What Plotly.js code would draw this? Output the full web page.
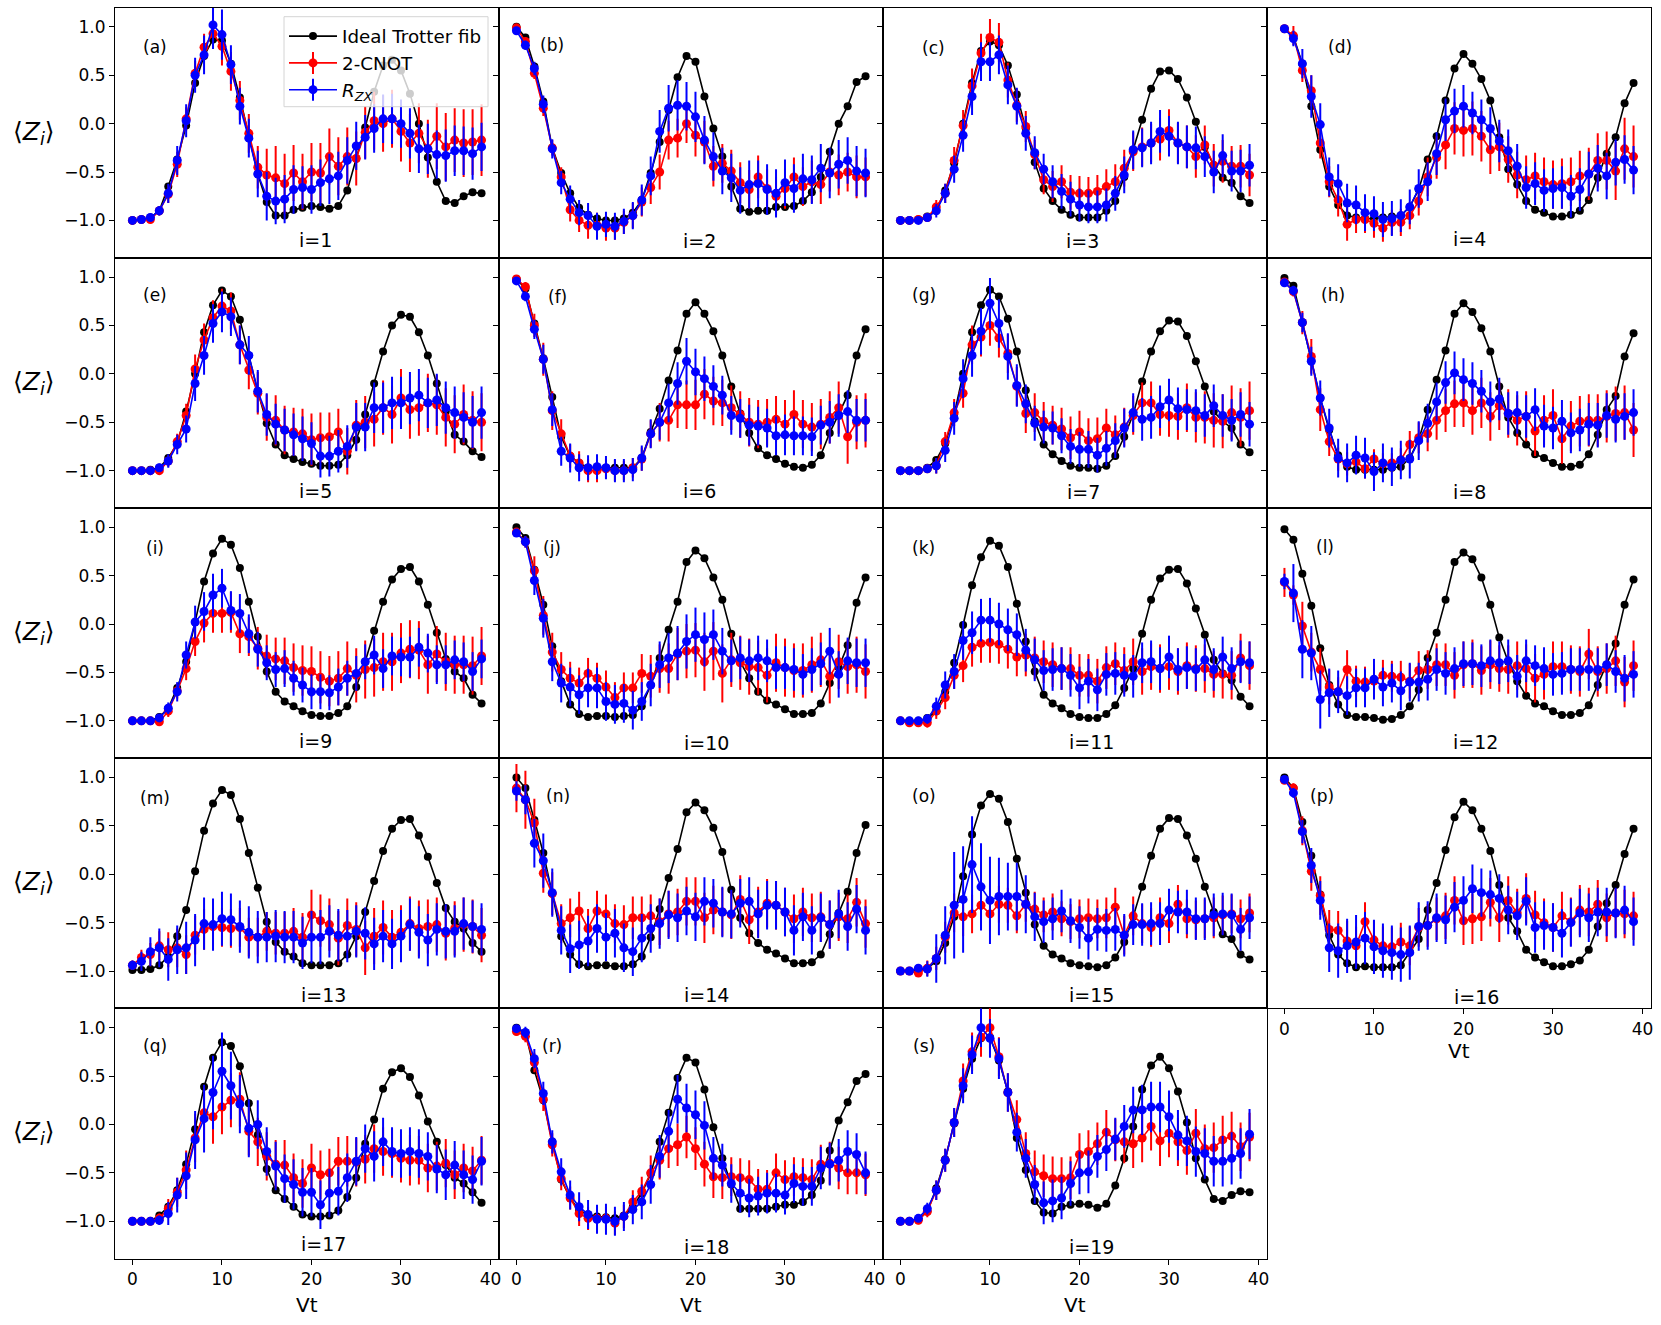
<!DOCTYPE html>
<html>
<head>
<meta charset="utf-8">
<script src="https://cdn.plot.ly/plotly-3.0.1.min.js"></script>
<style>html,body{margin:0;padding:0;background:#fff;}#chart{width:1661px;height:1325px;}</style>
</head>
<body>
<div id="chart"></div>
<script>
// ---------------- DATA ----------------
const vt = [0,1,2,3,4,5,6,7,8,9,10,11,12,13,14,15,16,17,18,19,20,21,22,23,24,25,26,27,28,29,30,31,32,33,34,35,36,37,38,39];
const seriesNames = ["Ideal Trotter fib", "2-CNOT", "<i>R</i><sub><i>ZX</i></sub>"];
const panelLetters = ["(a)","(b)","(c)","(d)","(e)","(f)","(g)","(h)","(i)","(j)","(k)","(l)","(m)","(n)","(o)","(p)","(q)","(r)","(s)"];
const siteLabels = ["i=1","i=2","i=3","i=4","i=5","i=6","i=7","i=8","i=9","i=10","i=11","i=12","i=13","i=14","i=15","i=16","i=17","i=18","i=19"];
const yTickVals = [-1,-0.5,0,0.5,1];
const xTickVals = [0,10,20,30,40];

// panel a (i=1)
const K_a = [-1.0,-0.99,-0.97,-0.9,-0.65,-0.37,-0.02,0.42,0.70,0.87,0.86,0.62,0.27,-0.14,-0.52,-0.81,-0.95,-0.95,-0.89,-0.87,-0.85,-0.86,-0.88,-0.85,-0.69,-0.36,-0.04,0.33,0.60,0.66,0.55,0.31,0.0,-0.35,-0.6,-0.8,-0.82,-0.75,-0.71,-0.72];
const R_a = [-1.0,-0.99,-0.99,-0.9,-0.73,-0.42,0.05,0.52,0.79,0.93,0.80,0.54,0.24,-0.1,-0.45,-0.53,-0.56,-0.62,-0.51,-0.6,-0.5,-0.51,-0.34,-0.44,-0.34,-0.36,-0.09,0.03,0.0,0.05,-0.08,-0.2,-0.1,-0.26,-0.13,-0.24,-0.17,-0.2,-0.19,-0.17];
const B_a = [-1.0,-0.99,-0.97,-0.9,-0.72,-0.38,0.03,0.5,0.71,1.02,0.92,0.61,0.18,-0.15,-0.52,-0.75,-0.8,-0.78,-0.68,-0.66,-0.68,-0.61,-0.57,-0.54,-0.38,-0.23,-0.14,-0.05,0.05,0.05,0.0,-0.1,-0.26,-0.26,-0.32,-0.33,-0.28,-0.28,-0.31,-0.24];
const RE_a = [0.01,0.02,0.03,0.05,0.09,0.13,0.12,0.13,0.14,0.15,0.2,0.2,0.2,0.2,0.22,0.27,0.33,0.31,0.29,0.29,0.3,0.31,0.29,0.3,0.3,0.28,0.27,0.3,0.29,0.3,0.31,0.3,0.31,0.3,0.34,0.35,0.33,0.35,0.34,0.37];
const BE_a = [0.01,0.02,0.03,0.05,0.1,0.15,0.17,0.18,0.2,0.25,0.26,0.2,0.19,0.2,0.24,0.25,0.24,0.25,0.25,0.22,0.25,0.24,0.26,0.25,0.24,0.25,0.23,0.25,0.25,0.26,0.25,0.26,0.25,0.26,0.25,0.27,0.26,0.25,0.27,0.25];
// panel b (i=2)
const K_b = [1.0,0.89,0.59,0.23,-0.25,-0.51,-0.72,-0.87,-0.94,-0.98,-1.0,-1.0,-0.98,-0.92,-0.79,-0.51,-0.19,0.14,0.48,0.70,0.64,0.28,-0.05,-0.34,-0.65,-0.88,-0.91,-0.90,-0.90,-0.86,-0.86,-0.85,-0.80,-0.71,-0.55,-0.29,0.0,0.18,0.43,0.49];
const R_b = [0.99,0.85,0.52,0.16,-0.25,-0.55,-0.89,-1.0,-1.05,-1.05,-1.08,-1.08,-1.02,-0.95,-0.81,-0.66,-0.5,-0.17,-0.15,0.0,-0.12,-0.19,-0.44,-0.41,-0.49,-0.61,-0.68,-0.55,-0.67,-0.75,-0.67,-0.55,-0.65,-0.6,-0.63,-0.5,-0.53,-0.5,-0.55,-0.55];
const B_b = [0.96,0.81,0.57,0.2,-0.26,-0.61,-0.78,-0.92,-0.95,-1.06,-1.04,-1.06,-1.01,-0.95,-0.79,-0.54,-0.08,0.16,0.19,0.18,0.07,-0.17,-0.34,-0.49,-0.56,-0.69,-0.63,-0.62,-0.68,-0.72,-0.61,-0.67,-0.57,-0.58,-0.46,-0.51,-0.42,-0.38,-0.49,-0.51];
const RE_b = [0.03,0.04,0.06,0.08,0.08,0.1,0.12,0.12,0.14,0.13,0.13,0.12,0.12,0.13,0.15,0.17,0.18,0.2,0.2,0.2,0.22,0.22,0.21,0.2,0.22,0.21,0.2,0.22,0.2,0.2,0.21,0.2,0.2,0.22,0.2,0.2,0.21,0.2,0.22,0.2];
const BE_b = [0.04,0.05,0.07,0.09,0.1,0.12,0.14,0.13,0.13,0.14,0.13,0.14,0.13,0.14,0.16,0.2,0.22,0.24,0.26,0.25,0.26,0.25,0.25,0.24,0.25,0.24,0.25,0.24,0.26,0.25,0.24,0.25,0.26,0.25,0.25,0.26,0.25,0.24,0.26,0.25];
// panel c (i=3)
const K_c = [-1.0,-1.0,-0.99,-0.96,-0.89,-0.69,-0.41,0.0,0.42,0.75,0.85,0.81,0.6,0.3,-0.05,-0.4,-0.67,-0.8,-0.89,-0.94,-0.97,-0.97,-0.97,-0.9,-0.8,-0.55,-0.27,0.04,0.36,0.54,0.55,0.46,0.27,0.02,-0.24,-0.43,-0.56,-0.61,-0.75,-0.82];
const R_c = [-1.0,-1.0,-0.99,-0.97,-0.86,-0.72,-0.38,-0.02,0.39,0.73,0.89,0.84,0.45,0.19,-0.03,-0.32,-0.58,-0.65,-0.6,-0.71,-0.72,-0.72,-0.7,-0.65,-0.6,-0.46,-0.29,-0.24,-0.2,-0.16,-0.07,-0.2,-0.24,-0.34,-0.22,-0.43,-0.39,-0.44,-0.44,-0.53];
const B_c = [-1.0,-1.0,-1.0,-0.97,-0.9,-0.72,-0.47,-0.12,0.28,0.64,0.64,0.71,0.4,0.18,-0.1,-0.3,-0.47,-0.6,-0.7,-0.78,-0.84,-0.86,-0.86,-0.84,-0.72,-0.53,-0.27,-0.25,-0.2,-0.08,-0.13,-0.2,-0.24,-0.25,-0.34,-0.5,-0.33,-0.49,-0.49,-0.43];
const RE_c = [0.01,0.01,0.02,0.04,0.07,0.1,0.14,0.16,0.18,0.2,0.19,0.2,0.18,0.17,0.16,0.15,0.15,0.16,0.17,0.18,0.18,0.17,0.17,0.18,0.18,0.19,0.2,0.2,0.2,0.22,0.22,0.21,0.22,0.22,0.2,0.22,0.22,0.21,0.22,0.22];
const BE_c = [0.01,0.01,0.02,0.04,0.07,0.1,0.14,0.17,0.19,0.2,0.2,0.2,0.2,0.19,0.18,0.17,0.16,0.17,0.18,0.18,0.17,0.17,0.17,0.17,0.18,0.19,0.2,0.2,0.22,0.22,0.21,0.22,0.22,0.22,0.21,0.22,0.22,0.21,0.22,0.22];
// panel d (i=4)
const K_d = [0.98,0.9,0.62,0.18,-0.27,-0.65,-0.84,-0.95,-0.97,-0.98,-0.98,-0.97,-0.96,-0.95,-0.86,-0.68,-0.37,-0.13,0.24,0.57,0.72,0.62,0.46,0.24,-0.14,-0.47,-0.63,-0.8,-0.89,-0.92,-0.96,-0.96,-0.94,-0.9,-0.79,-0.56,-0.31,-0.14,0.21,0.42];
const R_d = [0.98,0.91,0.55,0.34,-0.2,-0.6,-0.79,-1.04,-0.99,-0.99,-1.03,-1.08,-1.02,-1.02,-0.95,-0.8,-0.55,-0.35,-0.22,-0.05,-0.07,-0.05,-0.13,-0.27,-0.24,-0.37,-0.53,-0.58,-0.54,-0.6,-0.63,-0.62,-0.6,-0.54,-0.52,-0.38,-0.38,-0.49,-0.26,-0.34];
const B_d = [0.98,0.88,0.62,0.28,-0.01,-0.55,-0.62,-0.82,-0.84,-0.92,-0.93,-0.99,-0.98,-0.95,-0.86,-0.67,-0.6,-0.31,0.04,0.13,0.18,0.11,0.04,-0.05,-0.18,-0.28,-0.44,-0.66,-0.62,-0.69,-0.67,-0.66,-0.75,-0.68,-0.52,-0.46,-0.54,-0.4,-0.37,-0.48];
const RE_d = [0.02,0.1,0.12,0.16,0.16,0.16,0.17,0.17,0.14,0.14,0.15,0.14,0.13,0.14,0.14,0.15,0.2,0.22,0.25,0.27,0.27,0.28,0.26,0.25,0.25,0.24,0.24,0.25,0.24,0.25,0.25,0.26,0.25,0.26,0.27,0.28,0.3,0.3,0.32,0.32];
const BE_d = [0.02,0.08,0.15,0.22,0.22,0.2,0.2,0.2,0.2,0.19,0.18,0.18,0.18,0.17,0.18,0.2,0.2,0.22,0.22,0.23,0.22,0.22,0.21,0.22,0.22,0.22,0.23,0.22,0.22,0.22,0.21,0.22,0.22,0.22,0.23,0.24,0.24,0.24,0.25,0.25];
// panel e (i=5)
const K_e = [-1.0,-1.0,-0.99,-0.97,-0.87,-0.72,-0.39,0.0,0.43,0.71,0.86,0.8,0.56,0.19,-0.18,-0.51,-0.73,-0.84,-0.88,-0.91,-0.93,-0.95,-0.95,-0.94,-0.84,-0.68,-0.42,-0.1,0.23,0.5,0.61,0.59,0.43,0.19,-0.1,-0.39,-0.63,-0.7,-0.8,-0.86];
const R_e = [-1.0,-1.0,-1.0,-1.0,-0.9,-0.7,-0.43,0.05,0.35,0.58,0.7,0.65,0.3,0.04,-0.2,-0.45,-0.48,-0.58,-0.6,-0.62,-0.68,-0.66,-0.65,-0.6,-0.8,-0.53,-0.5,-0.47,-0.35,-0.42,-0.25,-0.37,-0.35,-0.3,-0.32,-0.45,-0.52,-0.42,-0.48,-0.5];
const B_e = [-1.0,-1.0,-1.0,-0.97,-0.9,-0.73,-0.57,-0.1,0.19,0.52,0.64,0.59,0.3,0.19,-0.18,-0.42,-0.52,-0.58,-0.63,-0.67,-0.72,-0.85,-0.85,-0.8,-0.75,-0.55,-0.55,-0.35,-0.35,-0.3,-0.3,-0.25,-0.22,-0.3,-0.27,-0.35,-0.4,-0.45,-0.5,-0.4];
const RE_e = [0.01,0.02,0.03,0.04,0.06,0.08,0.12,0.15,0.17,0.18,0.18,0.19,0.2,0.2,0.22,0.24,0.26,0.25,0.25,0.26,0.27,0.26,0.25,0.24,0.24,0.26,0.27,0.28,0.28,0.3,0.3,0.3,0.29,0.3,0.31,0.3,0.3,0.31,0.3,0.3];
const BE_e = [0.01,0.02,0.03,0.04,0.07,0.1,0.14,0.18,0.2,0.2,0.21,0.2,0.2,0.2,0.22,0.22,0.21,0.22,0.22,0.23,0.22,0.22,0.21,0.22,0.22,0.25,0.25,0.26,0.26,0.27,0.27,0.27,0.27,0.26,0.27,0.27,0.27,0.26,0.27,0.27];
// panel f (i=6)
const K_f = [0.98,0.88,0.52,0.16,-0.24,-0.65,-0.85,-0.92,-0.97,-0.97,-0.97,-0.97,-0.97,-0.97,-0.87,-0.6,-0.36,-0.07,0.24,0.62,0.74,0.62,0.44,0.19,-0.13,-0.41,-0.61,-0.77,-0.84,-0.88,-0.93,-0.96,-0.97,-0.94,-0.84,-0.61,-0.42,-0.22,0.19,0.46];
const R_f = [0.98,0.9,0.5,0.15,-0.38,-0.62,-0.85,-0.92,-1.0,-1.0,-0.98,-1.0,-1.0,-0.97,-0.88,-0.62,-0.5,-0.48,-0.32,-0.32,-0.32,-0.21,-0.28,-0.3,-0.35,-0.42,-0.5,-0.52,-0.5,-0.47,-0.52,-0.42,-0.52,-0.55,-0.52,-0.45,-0.35,-0.65,-0.5,-0.48];
const B_f = [0.96,0.8,0.46,0.15,-0.37,-0.8,-0.87,-0.97,-0.97,-0.96,-0.97,-1.0,-1.0,-0.99,-0.87,-0.62,-0.5,-0.3,-0.1,0.13,0.02,-0.05,-0.13,-0.22,-0.43,-0.46,-0.53,-0.54,-0.56,-0.64,-0.63,-0.64,-0.64,-0.65,-0.53,-0.5,-0.43,-0.39,-0.48,-0.48];
const RE_f = [0.02,0.05,0.12,0.17,0.2,0.15,0.12,0.12,0.12,0.12,0.1,0.11,0.1,0.1,0.12,0.14,0.2,0.22,0.24,0.25,0.26,0.26,0.25,0.24,0.23,0.24,0.25,0.25,0.24,0.24,0.25,0.25,0.25,0.25,0.26,0.27,0.27,0.28,0.28,0.28];
const BE_f = [0.02,0.05,0.1,0.15,0.17,0.15,0.15,0.14,0.13,0.13,0.12,0.12,0.12,0.12,0.13,0.15,0.18,0.2,0.22,0.24,0.24,0.23,0.22,0.2,0.2,0.2,0.21,0.2,0.2,0.2,0.21,0.2,0.2,0.2,0.2,0.22,0.22,0.22,0.22,0.22];
// panel g (i=7)
const K_g = [-1.0,-1.0,-1.0,-0.97,-0.89,-0.72,-0.42,0.0,0.43,0.71,0.87,0.8,0.57,0.23,-0.17,-0.49,-0.73,-0.83,-0.9,-0.95,-0.97,-0.97,-0.98,-0.95,-0.85,-0.65,-0.42,-0.08,0.23,0.44,0.55,0.54,0.39,0.13,-0.13,-0.39,-0.49,-0.56,-0.73,-0.81];
const R_g = [-1.0,-1.0,-1.0,-0.98,-0.95,-0.7,-0.4,-0.2,0.3,0.38,0.5,0.37,0.21,-0.13,-0.41,-0.4,-0.49,-0.53,-0.57,-0.66,-0.6,-0.69,-0.67,-0.56,-0.63,-0.55,-0.43,-0.3,-0.3,-0.42,-0.43,-0.44,-0.35,-0.45,-0.45,-0.48,-0.49,-0.4,-0.45,-0.38];
const B_g = [-1.0,-1.0,-1.0,-0.98,-0.95,-0.79,-0.46,-0.05,0.19,0.44,0.73,0.52,0.18,-0.12,-0.31,-0.51,-0.55,-0.56,-0.64,-0.75,-0.78,-0.78,-0.84,-0.77,-0.69,-0.56,-0.4,-0.47,-0.45,-0.34,-0.27,-0.36,-0.37,-0.38,-0.43,-0.33,-0.43,-0.48,-0.42,-0.52];
const RE_g = [0.01,0.01,0.02,0.04,0.08,0.1,0.14,0.15,0.2,0.2,0.21,0.2,0.2,0.2,0.2,0.2,0.2,0.2,0.22,0.22,0.22,0.23,0.22,0.2,0.2,0.2,0.2,0.21,0.22,0.22,0.22,0.24,0.25,0.26,0.27,0.28,0.28,0.28,0.3,0.3];
const BE_g = [0.01,0.01,0.02,0.04,0.08,0.12,0.17,0.2,0.22,0.24,0.26,0.25,0.24,0.22,0.2,0.18,0.17,0.17,0.18,0.18,0.18,0.19,0.18,0.18,0.18,0.2,0.2,0.22,0.22,0.22,0.22,0.22,0.21,0.22,0.22,0.22,0.22,0.22,0.23,0.23];
// panel h (i=8)
const K_h = [0.99,0.91,0.53,0.14,-0.25,-0.58,-0.84,-0.96,-0.99,-0.99,-0.99,-0.99,-0.97,-0.96,-0.87,-0.68,-0.37,-0.06,0.24,0.62,0.73,0.64,0.47,0.23,-0.13,-0.45,-0.61,-0.73,-0.83,-0.87,-0.92,-0.96,-0.96,-0.94,-0.83,-0.63,-0.37,-0.23,0.18,0.42];
const R_h = [0.95,0.85,0.53,0.18,-0.37,-0.7,-0.88,-0.93,-0.91,-0.98,-0.88,-0.93,-0.92,-0.89,-0.73,-0.66,-0.62,-0.48,-0.38,-0.31,-0.3,-0.38,-0.3,-0.44,-0.33,-0.41,-0.48,-0.44,-0.59,-0.48,-0.43,-0.67,-0.54,-0.49,-0.48,-0.48,-0.44,-0.41,-0.4,-0.58];
const B_h = [0.94,0.86,0.53,0.13,-0.25,-0.56,-0.87,-0.92,-0.84,-0.87,-1.01,-0.92,-0.96,-0.89,-0.88,-0.69,-0.51,-0.29,-0.09,0.01,-0.06,-0.1,-0.18,-0.29,-0.26,-0.41,-0.4,-0.44,-0.37,-0.54,-0.56,-0.49,-0.61,-0.58,-0.52,-0.53,-0.43,-0.47,-0.44,-0.4];
const RE_h = [0.02,0.05,0.12,0.18,0.22,0.15,0.12,0.12,0.12,0.1,0.1,0.11,0.1,0.12,0.14,0.16,0.18,0.2,0.22,0.24,0.25,0.25,0.26,0.25,0.25,0.25,0.26,0.26,0.26,0.26,0.27,0.26,0.26,0.26,0.27,0.27,0.27,0.28,0.28,0.28];
const BE_h = [0.02,0.05,0.1,0.15,0.18,0.2,0.2,0.2,0.2,0.21,0.2,0.2,0.2,0.2,0.2,0.2,0.2,0.2,0.22,0.22,0.22,0.22,0.22,0.21,0.22,0.22,0.22,0.22,0.22,0.22,0.22,0.22,0.21,0.22,0.22,0.23,0.23,0.24,0.24,0.24];
// panel i (i=9)
const K_i = [-1.0,-1.0,-1.0,-0.96,-0.87,-0.66,-0.39,0.02,0.44,0.73,0.88,0.82,0.58,0.23,-0.13,-0.49,-0.7,-0.8,-0.85,-0.9,-0.94,-0.95,-0.95,-0.92,-0.85,-0.65,-0.39,-0.07,0.23,0.46,0.57,0.59,0.44,0.2,-0.09,-0.36,-0.49,-0.56,-0.73,-0.82];
const R_i = [-1.0,-1.0,-1.0,-1.01,-0.9,-0.69,-0.46,-0.18,0.01,0.11,0.11,0.12,-0.1,-0.13,-0.25,-0.33,-0.36,-0.38,-0.45,-0.48,-0.49,-0.55,-0.59,-0.56,-0.46,-0.53,-0.47,-0.45,-0.39,-0.39,-0.3,-0.26,-0.27,-0.42,-0.31,-0.39,-0.42,-0.42,-0.43,-0.33];
const B_i = [-1.0,-1.0,-1.0,-0.97,-0.87,-0.7,-0.32,0.02,0.13,0.3,0.37,0.14,0.11,-0.1,-0.26,-0.4,-0.47,-0.46,-0.56,-0.63,-0.7,-0.7,-0.71,-0.65,-0.56,-0.51,-0.39,-0.32,-0.46,-0.33,-0.34,-0.34,-0.24,-0.3,-0.42,-0.42,-0.37,-0.39,-0.49,-0.36];
const RE_i = [0.01,0.01,0.02,0.04,0.06,0.08,0.12,0.15,0.2,0.2,0.2,0.21,0.2,0.2,0.22,0.22,0.22,0.24,0.25,0.26,0.26,0.27,0.26,0.28,0.28,0.28,0.3,0.3,0.3,0.3,0.31,0.3,0.3,0.3,0.29,0.3,0.3,0.3,0.3,0.3];
const BE_i = [0.01,0.01,0.02,0.04,0.06,0.1,0.14,0.17,0.2,0.22,0.2,0.2,0.2,0.2,0.18,0.18,0.18,0.19,0.18,0.18,0.18,0.18,0.18,0.19,0.18,0.18,0.18,0.2,0.2,0.2,0.2,0.21,0.2,0.2,0.2,0.2,0.2,0.2,0.2,0.2];
// panel j (i=10)
const K_j = [1.0,0.89,0.56,0.2,-0.23,-0.59,-0.83,-0.93,-0.96,-0.95,-0.95,-0.96,-0.95,-0.94,-0.85,-0.63,-0.35,-0.06,0.23,0.64,0.76,0.68,0.48,0.25,-0.1,-0.39,-0.56,-0.7,-0.79,-0.83,-0.88,-0.93,-0.93,-0.92,-0.82,-0.61,-0.45,-0.22,0.22,0.48];
const R_j = [0.95,0.85,0.55,0.09,-0.29,-0.47,-0.56,-0.61,-0.51,-0.56,-0.65,-0.76,-0.66,-0.66,-0.51,-0.54,-0.46,-0.46,-0.31,-0.28,-0.27,-0.39,-0.28,-0.51,-0.37,-0.4,-0.44,-0.45,-0.53,-0.4,-0.45,-0.48,-0.48,-0.42,-0.37,-0.54,-0.39,-0.44,-0.42,-0.49];
const B_j = [0.94,0.85,0.45,0.06,-0.39,-0.61,-0.65,-0.73,-0.66,-0.66,-0.8,-0.83,-0.82,-0.89,-0.8,-0.63,-0.42,-0.35,-0.3,-0.18,-0.11,-0.16,-0.11,-0.28,-0.38,-0.35,-0.38,-0.35,-0.38,-0.45,-0.45,-0.47,-0.52,-0.47,-0.41,-0.28,-0.52,-0.38,-0.4,-0.4];
const RE_j = [0.03,0.06,0.15,0.2,0.2,0.18,0.17,0.16,0.16,0.16,0.17,0.16,0.16,0.16,0.2,0.22,0.25,0.26,0.27,0.28,0.28,0.3,0.3,0.3,0.28,0.28,0.29,0.28,0.28,0.3,0.3,0.28,0.28,0.29,0.28,0.28,0.28,0.28,0.29,0.28];
const BE_j = [0.03,0.06,0.15,0.2,0.2,0.2,0.2,0.2,0.2,0.21,0.2,0.2,0.2,0.2,0.2,0.22,0.24,0.26,0.28,0.28,0.28,0.28,0.26,0.24,0.22,0.22,0.22,0.23,0.22,0.22,0.22,0.22,0.21,0.22,0.22,0.24,0.24,0.24,0.25,0.25];
// panel k (i=11)
const K_k = [-1.0,-1.0,-1.0,-0.97,-0.9,-0.7,-0.4,-0.01,0.4,0.69,0.86,0.81,0.59,0.21,-0.18,-0.49,-0.73,-0.82,-0.87,-0.93,-0.96,-0.97,-0.97,-0.93,-0.84,-0.66,-0.46,-0.1,0.25,0.47,0.56,0.57,0.42,0.16,-0.11,-0.37,-0.51,-0.58,-0.75,-0.85];
const R_k = [-1.0,-1.02,-1.02,-1.02,-0.9,-0.76,-0.53,-0.43,-0.24,-0.2,-0.19,-0.21,-0.26,-0.34,-0.32,-0.35,-0.39,-0.42,-0.46,-0.46,-0.53,-0.53,-0.59,-0.45,-0.41,-0.48,-0.39,-0.49,-0.44,-0.46,-0.44,-0.49,-0.43,-0.46,-0.46,-0.52,-0.52,-0.53,-0.35,-0.43];
const B_k = [-1.0,-1.0,-1.0,-0.98,-0.85,-0.63,-0.49,-0.17,-0.09,0.04,0.04,0.0,-0.06,-0.11,-0.27,-0.37,-0.48,-0.47,-0.46,-0.53,-0.66,-0.59,-0.68,-0.52,-0.51,-0.53,-0.54,-0.4,-0.39,-0.46,-0.34,-0.47,-0.45,-0.47,-0.37,-0.47,-0.34,-0.46,-0.39,-0.4];
const RE_k = [0.01,0.02,0.03,0.05,0.08,0.12,0.14,0.17,0.2,0.2,0.21,0.2,0.2,0.2,0.22,0.22,0.22,0.23,0.22,0.22,0.22,0.22,0.23,0.22,0.22,0.24,0.24,0.24,0.24,0.25,0.24,0.24,0.24,0.24,0.25,0.24,0.25,0.25,0.25,0.25];
const BE_k = [0.01,0.02,0.03,0.05,0.09,0.14,0.18,0.2,0.22,0.22,0.23,0.22,0.22,0.22,0.22,0.22,0.21,0.22,0.22,0.22,0.22,0.23,0.22,0.22,0.22,0.22,0.22,0.21,0.22,0.22,0.22,0.22,0.22,0.22,0.22,0.22,0.21,0.22,0.22,0.22];
// panel l (i=12)
const K_l = [0.98,0.87,0.52,0.19,-0.25,-0.63,-0.83,-0.94,-0.96,-0.96,-0.97,-0.99,-0.98,-0.94,-0.85,-0.68,-0.35,-0.09,0.25,0.64,0.74,0.67,0.48,0.2,-0.14,-0.39,-0.59,-0.74,-0.82,-0.85,-0.9,-0.94,-0.94,-0.92,-0.84,-0.63,-0.42,-0.2,0.2,0.46];
const R_l = [0.43,0.3,-0.02,-0.29,-0.47,-0.65,-0.7,-0.47,-0.59,-0.6,-0.59,-0.53,-0.54,-0.55,-0.59,-0.48,-0.47,-0.42,-0.42,-0.53,-0.42,-0.41,-0.48,-0.42,-0.46,-0.47,-0.43,-0.46,-0.56,-0.52,-0.44,-0.44,-0.47,-0.49,-0.31,-0.49,-0.46,-0.38,-0.6,-0.43];
const B_l = [0.44,0.32,-0.26,-0.3,-0.78,-0.71,-0.7,-0.74,-0.66,-0.66,-0.57,-0.65,-0.61,-0.69,-0.6,-0.6,-0.57,-0.47,-0.51,-0.46,-0.41,-0.41,-0.43,-0.38,-0.4,-0.38,-0.54,-0.38,-0.43,-0.46,-0.52,-0.51,-0.47,-0.47,-0.47,-0.47,-0.42,-0.49,-0.56,-0.52];
const RE_l = [0.15,0.1,0.25,0.2,0.22,0.18,0.15,0.2,0.16,0.16,0.17,0.16,0.16,0.17,0.18,0.2,0.2,0.22,0.22,0.24,0.24,0.25,0.25,0.25,0.24,0.25,0.25,0.25,0.25,0.26,0.26,0.26,0.25,0.26,0.26,0.26,0.26,0.26,0.26,0.26];
const BE_l = [0.08,0.3,0.3,0.28,0.3,0.25,0.22,0.2,0.2,0.2,0.21,0.2,0.2,0.2,0.2,0.2,0.22,0.22,0.22,0.22,0.23,0.22,0.22,0.22,0.22,0.22,0.22,0.22,0.21,0.22,0.22,0.22,0.22,0.22,0.22,0.22,0.22,0.22,0.24,0.24];
// panel m (i=13)
const K_m = [-0.99,-0.99,-0.98,-0.94,-0.85,-0.64,-0.37,0.03,0.45,0.73,0.87,0.82,0.57,0.22,-0.14,-0.49,-0.7,-0.8,-0.85,-0.92,-0.94,-0.94,-0.94,-0.92,-0.83,-0.64,-0.39,-0.07,0.24,0.47,0.56,0.57,0.4,0.18,-0.09,-0.35,-0.49,-0.56,-0.71,-0.8];
const R_m = [-0.94,-0.86,-0.83,-0.74,-0.78,-0.76,-0.83,-0.63,-0.57,-0.54,-0.55,-0.56,-0.55,-0.65,-0.65,-0.59,-0.61,-0.61,-0.59,-0.65,-0.42,-0.48,-0.52,-0.66,-0.53,-0.57,-0.76,-0.64,-0.55,-0.65,-0.6,-0.51,-0.56,-0.54,-0.52,-0.61,-0.56,-0.52,-0.54,-0.63];
const B_m = [-0.94,-0.9,-0.8,-0.76,-0.88,-0.78,-0.76,-0.68,-0.51,-0.52,-0.46,-0.47,-0.54,-0.6,-0.65,-0.65,-0.64,-0.65,-0.65,-0.71,-0.65,-0.65,-0.59,-0.63,-0.64,-0.59,-0.61,-0.72,-0.64,-0.72,-0.64,-0.52,-0.6,-0.68,-0.57,-0.59,-0.59,-0.51,-0.54,-0.57];
const RE_m = [0.05,0.08,0.12,0.15,0.18,0.2,0.2,0.2,0.21,0.2,0.2,0.2,0.2,0.2,0.2,0.2,0.22,0.22,0.24,0.25,0.26,0.27,0.27,0.28,0.28,0.28,0.28,0.29,0.28,0.28,0.28,0.28,0.29,0.28,0.28,0.28,0.28,0.28,0.28,0.28];
const BE_m = [0.05,0.1,0.15,0.2,0.22,0.25,0.27,0.27,0.27,0.27,0.28,0.27,0.27,0.27,0.27,0.26,0.27,0.27,0.27,0.27,0.27,0.28,0.27,0.27,0.27,0.27,0.27,0.27,0.27,0.26,0.27,0.27,0.27,0.27,0.27,0.28,0.27,0.27,0.27,0.27];
// panel n (i=14)
const K_n = [1.0,0.89,0.56,0.22,-0.2,-0.64,-0.83,-0.93,-0.95,-0.94,-0.94,-0.95,-0.95,-0.93,-0.85,-0.65,-0.36,-0.04,0.26,0.64,0.74,0.66,0.48,0.23,-0.16,-0.45,-0.61,-0.71,-0.78,-0.82,-0.87,-0.92,-0.92,-0.91,-0.83,-0.62,-0.4,-0.18,0.22,0.51];
const R_n = [0.89,0.77,0.53,0.01,-0.2,-0.51,-0.45,-0.38,-0.56,-0.38,-0.41,-0.51,-0.52,-0.45,-0.45,-0.43,-0.49,-0.41,-0.39,-0.28,-0.28,-0.45,-0.37,-0.39,-0.42,-0.26,-0.47,-0.39,-0.3,-0.32,-0.39,-0.46,-0.39,-0.45,-0.44,-0.52,-0.44,-0.46,-0.29,-0.51];
const B_n = [0.86,0.77,0.32,0.14,-0.19,-0.58,-0.77,-0.73,-0.69,-0.56,-0.65,-0.61,-0.76,-0.8,-0.66,-0.56,-0.51,-0.42,-0.45,-0.38,-0.44,-0.28,-0.3,-0.39,-0.41,-0.3,-0.28,-0.41,-0.32,-0.32,-0.39,-0.58,-0.44,-0.58,-0.45,-0.52,-0.41,-0.54,-0.36,-0.58];
const RE_n = [0.25,0.3,0.25,0.2,0.22,0.2,0.2,0.2,0.2,0.21,0.2,0.2,0.2,0.22,0.22,0.22,0.24,0.24,0.24,0.25,0.25,0.26,0.25,0.25,0.25,0.25,0.25,0.26,0.25,0.25,0.25,0.25,0.25,0.25,0.26,0.25,0.25,0.25,0.25,0.25];
const BE_n = [0.1,0.15,0.25,0.28,0.25,0.25,0.25,0.25,0.26,0.25,0.25,0.25,0.25,0.25,0.25,0.25,0.26,0.25,0.25,0.25,0.25,0.25,0.25,0.26,0.25,0.25,0.25,0.25,0.25,0.25,0.25,0.26,0.25,0.25,0.25,0.25,0.25,0.25,0.25,0.25];
// panel o (i=15)
const K_o = [-1.0,-1.0,-0.99,-0.97,-0.9,-0.71,-0.44,-0.02,0.41,0.71,0.83,0.78,0.54,0.16,-0.19,-0.52,-0.74,-0.83,-0.87,-0.92,-0.94,-0.95,-0.96,-0.94,-0.86,-0.7,-0.44,-0.13,0.19,0.47,0.58,0.57,0.4,0.16,-0.13,-0.39,-0.62,-0.67,-0.83,-0.88];
const R_o = [-1.0,-1.0,-1.02,-0.97,-0.87,-0.65,-0.4,-0.44,-0.41,-0.32,-0.41,-0.31,-0.32,-0.43,-0.31,-0.36,-0.42,-0.39,-0.46,-0.49,-0.46,-0.45,-0.46,-0.45,-0.34,-0.63,-0.43,-0.51,-0.55,-0.45,-0.51,-0.31,-0.46,-0.47,-0.46,-0.45,-0.42,-0.41,-0.46,-0.4];
const B_o = [-1.0,-1.0,-0.97,-0.98,-0.87,-0.63,-0.32,-0.26,0.1,-0.13,-0.27,-0.23,-0.23,-0.23,-0.31,-0.44,-0.49,-0.46,-0.38,-0.48,-0.55,-0.66,-0.57,-0.58,-0.57,-0.63,-0.52,-0.52,-0.51,-0.51,-0.37,-0.39,-0.39,-0.46,-0.46,-0.42,-0.41,-0.42,-0.57,-0.45];
const RE_o = [0.01,0.02,0.04,0.08,0.12,0.16,0.2,0.2,0.2,0.2,0.18,0.19,0.18,0.18,0.18,0.18,0.18,0.19,0.18,0.18,0.2,0.2,0.2,0.21,0.2,0.2,0.2,0.2,0.2,0.21,0.2,0.2,0.2,0.2,0.2,0.21,0.2,0.2,0.2,0.2];
const BE_o = [0.01,0.02,0.04,0.08,0.25,0.3,0.55,0.55,0.5,0.45,0.45,0.4,0.35,0.35,0.3,0.25,0.22,0.22,0.22,0.23,0.22,0.22,0.22,0.22,0.22,0.22,0.21,0.22,0.22,0.22,0.22,0.22,0.23,0.22,0.22,0.22,0.22,0.22,0.22,0.22];
// panel p (i=16)
const K_p = [1.0,0.89,0.54,0.19,-0.21,-0.63,-0.83,-0.92,-0.96,-0.95,-0.96,-0.96,-0.96,-0.94,-0.8,-0.67,-0.37,-0.09,0.25,0.59,0.75,0.66,0.47,0.24,-0.11,-0.45,-0.59,-0.78,-0.86,-0.91,-0.95,-0.95,-0.93,-0.89,-0.78,-0.54,-0.3,-0.11,0.21,0.47];
const R_p = [0.97,0.89,0.45,0.03,-0.22,-0.57,-0.58,-0.69,-0.74,-0.49,-0.68,-0.74,-0.75,-0.7,-0.74,-0.55,-0.53,-0.46,-0.43,-0.27,-0.48,-0.46,-0.44,-0.29,-0.45,-0.27,-0.4,-0.25,-0.42,-0.5,-0.55,-0.43,-0.49,-0.37,-0.39,-0.31,-0.45,-0.4,-0.41,-0.43];
const B_p = [0.98,0.84,0.44,0.09,-0.27,-0.76,-0.79,-0.74,-0.7,-0.66,-0.75,-0.79,-0.81,-0.83,-0.81,-0.54,-0.53,-0.45,-0.47,-0.34,-0.27,-0.15,-0.19,-0.21,-0.25,-0.37,-0.43,-0.28,-0.55,-0.53,-0.55,-0.61,-0.5,-0.4,-0.45,-0.39,-0.39,-0.4,-0.37,-0.49];
const RE_p = [0.02,0.05,0.15,0.2,0.2,0.2,0.2,0.21,0.2,0.2,0.2,0.2,0.2,0.2,0.2,0.2,0.22,0.22,0.24,0.25,0.25,0.26,0.25,0.25,0.25,0.25,0.25,0.26,0.25,0.25,0.25,0.25,0.25,0.26,0.25,0.25,0.25,0.25,0.25,0.25];
const BE_p = [0.02,0.05,0.12,0.18,0.2,0.25,0.28,0.28,0.28,0.27,0.28,0.28,0.28,0.28,0.28,0.25,0.25,0.25,0.25,0.26,0.25,0.25,0.25,0.25,0.25,0.25,0.25,0.25,0.26,0.25,0.25,0.25,0.25,0.25,0.25,0.25,0.25,0.26,0.25,0.25];
// panel q (i=17)
const K_q = [-1.0,-1.0,-1.0,-0.94,-0.85,-0.68,-0.41,-0.05,0.39,0.69,0.85,0.81,0.6,0.22,-0.11,-0.46,-0.68,-0.77,-0.85,-0.93,-0.95,-0.95,-0.94,-0.89,-0.75,-0.55,-0.2,0.05,0.37,0.54,0.58,0.49,0.3,0.03,-0.18,-0.42,-0.55,-0.61,-0.7,-0.81];
const R_q = [-1.0,-1.0,-1.0,-0.97,-0.87,-0.7,-0.47,-0.14,0.12,0.08,0.18,0.25,0.26,-0.07,-0.18,-0.33,-0.41,-0.42,-0.55,-0.61,-0.45,-0.52,-0.5,-0.38,-0.38,-0.39,-0.36,-0.25,-0.28,-0.3,-0.35,-0.37,-0.37,-0.45,-0.43,-0.4,-0.52,-0.45,-0.48,-0.37];
const B_q = [-1.0,-1.0,-1.0,-0.99,-0.92,-0.73,-0.53,-0.16,0.06,0.33,0.55,0.4,0.21,-0.04,0.0,-0.28,-0.43,-0.56,-0.62,-0.7,-0.7,-0.83,-0.71,-0.69,-0.55,-0.38,-0.25,-0.33,-0.18,-0.28,-0.3,-0.28,-0.3,-0.33,-0.46,-0.52,-0.42,-0.52,-0.57,-0.38];
const RE_q = [0.01,0.02,0.03,0.05,0.1,0.15,0.2,0.25,0.28,0.28,0.28,0.28,0.28,0.25,0.25,0.25,0.25,0.26,0.25,0.25,0.25,0.25,0.25,0.25,0.26,0.25,0.25,0.25,0.25,0.25,0.25,0.26,0.25,0.25,0.25,0.25,0.25,0.25,0.25,0.25];
const BE_q = [0.01,0.02,0.03,0.05,0.12,0.18,0.24,0.3,0.35,0.38,0.4,0.35,0.3,0.3,0.25,0.25,0.25,0.25,0.26,0.25,0.25,0.25,0.25,0.25,0.25,0.25,0.25,0.26,0.25,0.25,0.25,0.25,0.25,0.25,0.25,0.26,0.25,0.25,0.25,0.25];
// panel r (i=18)
const K_r = [1.0,0.95,0.56,0.25,-0.18,-0.57,-0.76,-0.89,-0.93,-0.95,-0.96,-0.97,-0.94,-0.85,-0.71,-0.51,-0.18,0.12,0.48,0.69,0.64,0.36,-0.03,-0.35,-0.62,-0.87,-0.87,-0.87,-0.87,-0.85,-0.83,-0.83,-0.8,-0.73,-0.58,-0.27,0.04,0.23,0.45,0.52];
const R_r = [0.96,0.91,0.64,0.26,-0.21,-0.56,-0.76,-0.92,-0.97,-0.97,-0.97,-1.02,-0.95,-0.8,-0.69,-0.5,-0.37,-0.25,-0.21,-0.13,-0.25,-0.41,-0.54,-0.55,-0.54,-0.55,-0.57,-0.67,-0.67,-0.5,-0.57,-0.54,-0.55,-0.57,-0.41,-0.4,-0.45,-0.5,-0.5,-0.52];
const B_r = [0.99,0.95,0.68,0.32,-0.18,-0.49,-0.73,-0.85,-0.93,-0.98,-0.98,-1.0,-0.95,-0.88,-0.8,-0.62,-0.33,-0.07,0.26,0.17,0.1,-0.01,-0.35,-0.42,-0.61,-0.71,-0.76,-0.74,-0.71,-0.71,-0.73,-0.61,-0.64,-0.64,-0.45,-0.41,-0.37,-0.28,-0.31,-0.5];
const RE_r = [0.04,0.06,0.1,0.12,0.12,0.12,0.12,0.13,0.12,0.12,0.12,0.12,0.12,0.12,0.15,0.18,0.2,0.2,0.22,0.22,0.22,0.23,0.22,0.22,0.2,0.2,0.2,0.21,0.2,0.2,0.2,0.2,0.2,0.21,0.2,0.22,0.22,0.22,0.22,0.22];
const BE_r = [0.04,0.06,0.1,0.12,0.12,0.14,0.15,0.15,0.15,0.15,0.16,0.15,0.15,0.15,0.18,0.2,0.22,0.22,0.25,0.25,0.25,0.25,0.22,0.22,0.2,0.2,0.2,0.2,0.21,0.2,0.2,0.2,0.2,0.2,0.22,0.22,0.22,0.22,0.22,0.22];
// panel s (i=19)
const K_s = [-1.0,-1.0,-0.98,-0.9,-0.66,-0.36,0.01,0.37,0.68,0.89,0.9,0.66,0.34,-0.14,-0.47,-0.79,-0.91,-0.92,-0.85,-0.83,-0.82,-0.83,-0.86,-0.82,-0.63,-0.35,-0.02,0.36,0.61,0.7,0.58,0.34,0.02,-0.35,-0.57,-0.77,-0.79,-0.73,-0.69,-0.7];
const R_s = [-1.0,-1.0,-0.99,-0.9,-0.68,-0.37,0.02,0.45,0.75,0.9,1.0,0.7,0.33,0.05,-0.3,-0.49,-0.53,-0.56,-0.56,-0.55,-0.31,-0.28,-0.2,-0.08,-0.16,-0.18,-0.2,-0.14,-0.02,-0.17,-0.09,-0.18,-0.27,-0.09,-0.25,-0.24,-0.16,-0.12,-0.23,-0.13];
const B_s = [-1.0,-1.0,-0.97,-0.87,-0.68,-0.37,0.02,0.4,0.72,1.0,0.89,0.68,0.33,-0.08,-0.35,-0.62,-0.81,-0.79,-0.76,-0.61,-0.5,-0.49,-0.33,-0.26,-0.15,-0.02,0.15,0.15,0.18,0.18,0.08,-0.11,-0.17,-0.28,-0.3,-0.38,-0.38,-0.35,-0.3,-0.1];
const RE_s = [0.01,0.02,0.04,0.06,0.1,0.12,0.15,0.18,0.2,0.2,0.21,0.2,0.2,0.2,0.22,0.22,0.22,0.23,0.22,0.22,0.22,0.22,0.22,0.23,0.22,0.22,0.25,0.25,0.25,0.26,0.25,0.25,0.25,0.25,0.25,0.26,0.25,0.25,0.25,0.25];
const BE_s = [0.01,0.02,0.04,0.06,0.1,0.12,0.15,0.18,0.2,0.2,0.2,0.21,0.2,0.2,0.2,0.2,0.22,0.22,0.22,0.23,0.22,0.22,0.22,0.22,0.22,0.22,0.24,0.26,0.26,0.26,0.27,0.26,0.26,0.26,0.26,0.26,0.26,0.27,0.26,0.26];

const idealSeries = [K_a,K_b,K_c,K_d,K_e,K_f,K_g,K_h,K_i,K_j,K_k,K_l,K_m,K_n,K_o,K_p,K_q,K_r,K_s];
const cnotSeries  = [R_a,R_b,R_c,R_d,R_e,R_f,R_g,R_h,R_i,R_j,R_k,R_l,R_m,R_n,R_o,R_p,R_q,R_r,R_s];
const rzxSeries   = [B_a,B_b,B_c,B_d,B_e,B_f,B_g,B_h,B_i,B_j,B_k,B_l,B_m,B_n,B_o,B_p,B_q,B_r,B_s];
const cnotErr     = [RE_a,RE_b,RE_c,RE_d,RE_e,RE_f,RE_g,RE_h,RE_i,RE_j,RE_k,RE_l,RE_m,RE_n,RE_o,RE_p,RE_q,RE_r,RE_s];
const rzxErr      = [BE_a,BE_b,BE_c,BE_d,BE_e,BE_f,BE_g,BE_h,BE_i,BE_j,BE_k,BE_l,BE_m,BE_n,BE_o,BE_p,BE_q,BE_r,BE_s];

// ---------------- LAYOUT / STYLE ----------------
const W = 1661, H = 1325;
const X0 = 115, CW = 384, Y0 = 7.5, RH = 250.2;
const FONT = "DejaVu Sans, Arial, sans-serif";
const letterPos = [[2.5,0.79],[3.96,0.81],[3.67,0.78],[6.2,0.79],[2.5,0.81],[4.64,0.79],[2.6,0.81],[5.38,0.81],[2.5,0.79],[3.96,0.79],[2.6,0.79],[4.53,0.8],[2.5,0.79],[4.64,0.81],[2.6,0.81],[4.2,0.81],[2.5,0.81],[3.96,0.81],[2.6,0.81]];
const sitePos = [[20.4,-1.2],[20.4,-1.21],[20.35,-1.21],[20.7,-1.19],[20.4,-1.21],[20.4,-1.21],[20.4,-1.22],[20.7,-1.22],[20.4,-1.21],[21.2,-1.23],[21.3,-1.22],[21.35,-1.22],[21.3,-1.25],[21.2,-1.25],[21.3,-1.25],[21.5,-1.27],[21.3,-1.24],[21.2,-1.27],[21.3,-1.27]];
const xLabelPanels = [15,16,17,18];
// legend box in pixels
const LG = {l: 284, t: 16.7, r: 488, b: 106.7};

const traces = [];
const layout = {
  width: W, height: H,
  margin: {l:0, r:0, t:0, b:0},
  paper_bgcolor: '#fff', plot_bgcolor: '#fff',
  font: {family: FONT, color: '#000', size: 17},
  hovermode: false,
  showlegend: true,
  legend: {
    x: LG.l / W, y: 1 - (LG.t + 1) / H, xanchor: 'left', yanchor: 'top',
    bgcolor: 'rgba(0,0,0,0)', borderwidth: 0,
    font: {family: FONT, size: 18.3, color: '#000'},
    traceorder: 'grouped', tracegroupgap: 0, itemwidth: 48
  },
  annotations: [],
  shapes: [
    {type: 'rect', xref: 'paper', yref: 'paper', layer: 'above',
     x0: LG.l / W, x1: LG.r / W, y0: 1 - LG.b / H, y1: 1 - LG.t / H,
     fillcolor: 'rgba(255,255,255,0.8)', line: {color: '#d4d4d4', width: 1}}
  ]
};

for (let p = 0; p < 19; p++) {
  const row = Math.floor(p / 4), col = p % 4;
  const n = p + 1, sfx = n === 1 ? '' : String(n);
  const xa = 'x' + sfx, ya = 'y' + sfx;
  const showX = xLabelPanels.includes(p);
  const showY = col === 0;
  layout['xaxis' + sfx] = {
    domain: [(X0 + col * CW) / W, (X0 + (col + 1) * CW) / W],
    range: [-1.95, 40.95], anchor: ya,
    showline: true, mirror: true, linecolor: '#000', linewidth: 1,
    showgrid: false, zeroline: false,
    tickmode: 'array', tickvals: xTickVals,
    ticks: showX ? 'outside' : '', ticklen: 5, tickcolor: '#000',
    showticklabels: showX,
    tickfont: {family: FONT, size: 17, color: '#000'}
  };
  layout['yaxis' + sfx] = {
    domain: [1 - (Y0 + (row + 1) * RH) / H, 1 - (Y0 + row * RH) / H],
    range: [-1.385, 1.2], anchor: xa,
    showline: true, mirror: true, linecolor: '#000', linewidth: 1,
    showgrid: false, zeroline: false,
    tickmode: 'array', tickvals: yTickVals, tickformat: '.1f',
    ticks: 'outside', ticklen: 5, tickcolor: '#000',
    showticklabels: showY,
    tickfont: {family: FONT, size: 17, color: '#000'}
  };
  const leg = p === 0;
  traces.push({
    type: 'scatter', mode: 'lines+markers', x: vt, y: idealSeries[p], xaxis: xa, yaxis: ya,
    name: seriesNames[0], legendgroup: 'g1', showlegend: leg,
    line: {color: '#000000', width: 1.6}, marker: {color: '#000000', size: 8}
  });
  traces.push({
    type: 'scatter', mode: 'lines+markers', x: vt, y: cnotSeries[p], xaxis: xa, yaxis: ya,
    name: seriesNames[1], legendgroup: 'g2', showlegend: leg,
    line: {color: '#ff0000', width: 1.6}, marker: {color: '#ff0000', size: 9},
    error_y: {type: 'data', array: cnotErr[p], visible: true, color: '#ff0000', thickness: 2, width: 0}
  });
  traces.push({
    type: 'scatter', mode: 'lines+markers', x: vt, y: rzxSeries[p], xaxis: xa, yaxis: ya,
    name: seriesNames[2], legendgroup: 'g3', showlegend: leg,
    line: {color: '#0000ff', width: 1.6}, marker: {color: '#0000ff', size: 9},
    error_y: {type: 'data', array: rzxErr[p], visible: true, color: '#0000ff', thickness: 2, width: 0}
  });
  layout.annotations.push({
    xref: xa, yref: ya, x: letterPos[p][0], y: letterPos[p][1], text: panelLetters[p],
    showarrow: false, xanchor: 'center', yanchor: 'middle',
    font: {family: FONT, size: 17, color: '#000'}
  });
  layout.annotations.push({
    xref: xa, yref: ya, x: sitePos[p][0], y: sitePos[p][1], text: siteLabels[p],
    showarrow: false, xanchor: 'center', yanchor: 'middle',
    font: {family: FONT, size: 19, color: '#000'}
  });
  if (showX) {
    const cx = (X0 + col * CW + CW / 2) / W;
    const cy = (p === 15) ? 1051 : 1305;
    layout.annotations.push({
      xref: 'paper', yref: 'paper', x: cx, y: 1 - cy / H, text: 'Vt',
      showarrow: false, xanchor: 'center', yanchor: 'middle',
      font: {family: FONT, size: 20, color: '#000'}
    });
  }
}
for (let r = 0; r < 5; r++) {
  layout.annotations.push({
    xref: 'paper', yref: 'paper', x: 34 / W, y: 1 - (Y0 + r * RH + RH / 2) / H,
    text: '⟨<i>Z</i><sub><i>i</i></sub>⟩', showarrow: false,
    xanchor: 'center', yanchor: 'middle',
    font: {family: FONT, size: 25, color: '#000'}
  });
}

Plotly.newPlot('chart', traces, layout, {staticPlot: true, displayModeBar: false}).then(function () {
  // add the vertical error-bar glyphs to the legend symbols, centred on the drawn legend markers
  const gd = document.getElementById('chart');
  const pts = gd.querySelectorAll('.legend .traces .legendpoints path.scatterpts');
  const box = gd.getBoundingClientRect();
  const extra = [];
  const cols = ['#ff0000', '#0000ff'];
  for (let k = 1; k < pts.length && k < 3; k++) {
    const rc = pts[k].getBoundingClientRect();
    const cx = rc.left + rc.width / 2 - box.left, cy = rc.top + rc.height / 2 - box.top;
    extra.push({type: 'line', xref: 'paper', yref: 'paper', layer: 'above',
      x0: cx / W, x1: cx / W, y0: 1 - (cy - 11) / H, y1: 1 - (cy + 11) / H,
      line: {color: cols[k - 1], width: 2}});
  }
  if (extra.length) Plotly.relayout(gd, {shapes: layout.shapes.concat(extra)});
});
</script>
</body>
</html>
